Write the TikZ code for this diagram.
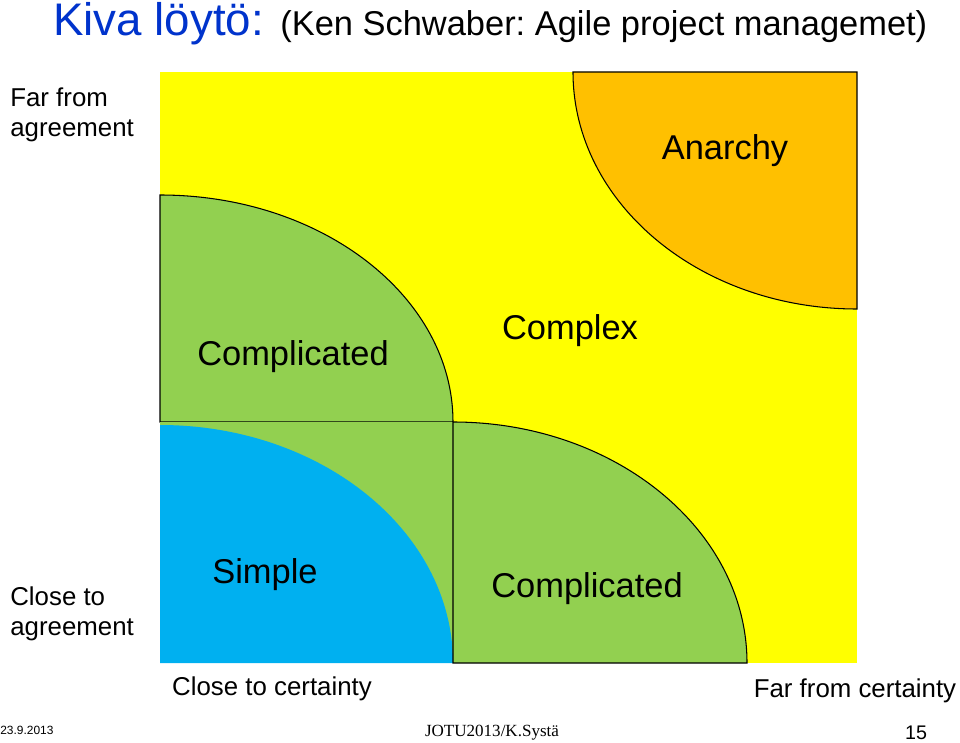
\documentclass[tikz,border=0pt]{standalone}
\usepackage{fontspec}
\setmainfont{Liberation Sans}
\newfontfamily\timesfont{Liberation Serif}
\usepackage{tikz}
\usetikzlibrary{positioning}
\frenchspacing

\definecolor{quadyellow}{RGB}{255,255,0}
\definecolor{quadorange}{RGB}{255,192,0}
\definecolor{quadgreen}{RGB}{146,208,80}
\definecolor{quadblue}{RGB}{0,176,240}
\definecolor{titleblue}{RGB}{0,51,204}

\begin{document}
\begin{tikzpicture}[
  x=0.02cm, y=-0.02cm,
  region/.style={draw=black, line width=0.6pt},
  big/.style={inner sep=0pt, font=\fontsize{19.6}{23}\selectfont},
  side/.style={inner sep=0pt, align=left, font=\fontsize{14.7}{17}\selectfont}
]
  \useasboundingbox (0,0) rectangle (960,743);
  % background field
  \fill[quadyellow] (160,72) rectangle (857,663);
  \filldraw[region, fill=quadorange] (857,72) -- (573,72) .. controls (573,203) and (700,309) .. (857,309) -- cycle;
  \filldraw[region, fill=quadgreen] (160,422) -- (160,195) .. controls (322,195) and (453,297) .. (453,422) -- cycle;
  \fill[quadgreen] (160,422) rectangle (453,663);
  \fill[quadblue] (160,663) -- (160,425) .. controls (322,425) and (453,532) .. (453,663) -- cycle;
  \filldraw[region, fill=quadgreen] (453,663) -- (453,422) .. controls (615,422) and (747,530) .. (747,663) -- cycle;

  % region labels
  \node[big] (anarchy) at (725,151) {Anarchy};
  \node[big] (complicatedtop) at (293,357) {Complicated};
  \node[big] (complex) at (570,331) {Complex};
  \node[big] (simple) at (265,575) {Simple};
  \node[big] (complicatedlow) at (587,589) {Complicated};

  % axis labels
  \node[side, anchor=west] (faragree) at (10,115) {Far from\\agreement};
  \node[side, anchor=west] (closeagree) at (10,614) {Close to\\agreement};
  \node[side] (closecert) at (272,689) {Close to certainty};
  \node[side] (farcert) at (855,691) {Far from certainty};

  % title and footer
  \node[inner sep=0pt, anchor=base west, text=titleblue, font=\fontsize{26}{30}\selectfont] (kiva) at (53,36) {Kiva löytö:};
  \node[inner sep=0pt, anchor=base west, font=\fontsize{19.6}{23}\selectfont] (source) at (280,36) {(Ken Schwaber: Agile project managemet)};
  \node[inner sep=0pt, anchor=base west, font=\fontsize{6.8}{8}\selectfont] (date) at (0,734) {23.9.2013};
  \node[inner sep=0pt, anchor=base, font=\timesfont\fontsize{9.7}{11}\selectfont] (course) at (492,736) {JOTU2013/K.Systä};
  \node[inner sep=0pt, anchor=base, font=\fontsize{11.2}{13}\selectfont] (page) at (916,739) {15};
\end{tikzpicture}
\end{document}
